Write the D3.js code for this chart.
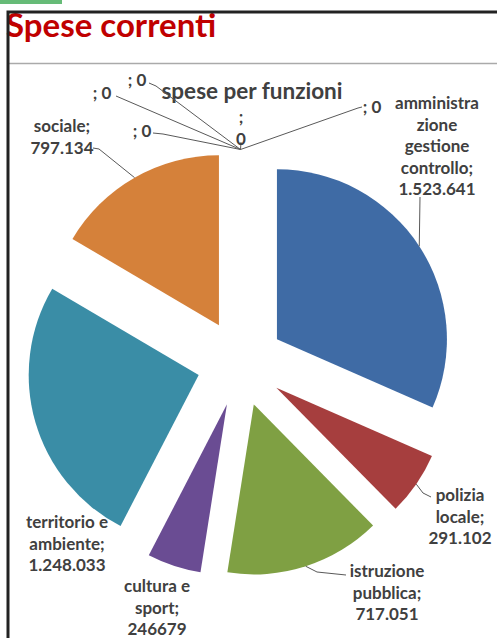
<!DOCTYPE html>
<html>
<head>
<meta charset="utf-8">
<script src="https://cdn.jsdelivr.net/npm/d3@7/dist/d3.min.js"></script>
<style>
  body { margin: 0; background: #fff; }
  svg { display: block; }
  text { font-family: Lato, "Open Sans", sans-serif; font-weight: bold; }
</style>
</head>
<body>
<div id="chart"></div>
<script>
// slices, in the order the pie draws them (clockwise from 12 o'clock)
var categories = ["amministrazione gestione controllo", "polizia locale", "istruzione pubblica",
                  "cultura e sport", "territorio e ambiente", "sociale", "", "", "", "", ""];
var values = [1523641, 291102, 717051, 246679, 1248033, 797134, 0, 0, 0, 0, 0];
// label text as it is wrapped in the picture
var labelLines = [
  ["amministra", "zione", "gestione", "controllo;", "1.523.641"],
  ["polizia", "locale;", "291.102"],
  ["istruzione", "pubblica;", "717.051"],
  ["cultura e", "sport;", "246679"],
  ["territorio e", "ambiente;", "1.248.033"],
  ["sociale;", "797.134"],
  ["; 0"], ["; 0"], ["; 0"], [";", "0"], ["; 0"]
];
var colors = ["#3f6ba5", "#a63e3e", "#7fa043", "#6a4c93", "#3a8da6", "#d5813a",
              "#888", "#888", "#888", "#888", "#888"];

var W = 497, H = 638;
var cx = 240.5, cy = 363, r = 170, explode = 43.5;

// where each label sits (first line centre) and the bends of its leader line
var labelLayout = [
  { x: 437, y: 103, leader: [[420, 197]] },
  { x: 460, y: 495, leader: [[423, 493], [431, 497]] },
  { x: 387, y: 571, leader: [[317, 572], [346, 575]] },
  { x: 157, y: 586, leader: null },
  { x: 67,  y: 522, leader: null },
  { x: 62,  y: 126, leader: [[99, 149], [93, 148]] },
  { x: 102, y: 93,  leader: [[116, 96]] },
  { x: 137, y: 80,  leader: [[156, 86], [149, 83]] },
  { x: 142, y: 131, leader: [[163, 134], [153, 133]] },
  { x: 241, y: 117, leader: [[241, 142]] },
  { x: 372, y: 107, leader: [[358, 108], [362, 107]] }
];

var svg = d3.select("#chart").append("svg")
  .attr("width", W)
  .attr("height", H);

// green tab + frame of the slide
svg.append("rect").attr("x", 0).attr("y", 0).attr("width", 62).attr("height", 4).attr("fill", "#66bb77");

svg.append("text")
  .attr("x", 6)
  .attr("y", 37)
  .attr("fill", "#c00000")
  .style("font-size", "33px")
  .text("Spese correnti");

svg.append("line").attr("x1", 9).attr("x2", W).attr("y1", 63.5).attr("y2", 63.5)
  .attr("stroke", "#aaa").attr("stroke-width", 1.5);
svg.append("path")
  .attr("d", "M8," + H + "V12H" + W)
  .attr("fill", "none").attr("stroke", "#222").attr("stroke-width", 3);

svg.append("text")
  .attr("x", 252)
  .attr("y", 99)
  .attr("text-anchor", "middle")
  .attr("fill", "#404040")
  .style("font-size", "22.5px")
  .text("spese per funzioni");

var pie = d3.pie().sort(null).value(function(d) { return d; });
var arcs = pie(values);
var arc = d3.arc().innerRadius(0).outerRadius(r);

function mid(d) { return (d.startAngle + d.endAngle) / 2; }
function offset(d) {
  var a = mid(d);
  return [cx + explode * Math.sin(a), cy - explode * Math.cos(a)];
}
function tip(d) {
  var a = mid(d), o = offset(d);
  return [o[0] + r * Math.sin(a), o[1] - r * Math.cos(a)];
}

var pieG = svg.append("g");
pieG.selectAll("path.slice")
  .data(arcs)
  .enter().append("path")
  .attr("class", "slice")
  .attr("transform", function(d) { return "translate(" + offset(d) + ")"; })
  .attr("d", arc)
  .attr("fill", function(d, i) { return colors[i]; });

// leader lines
var line = d3.line();
pieG.selectAll("path.leader")
  .data(arcs.filter(function(d, i) { return labelLayout[i].leader; }))
  .enter().append("path")
  .attr("class", "leader")
  .attr("d", function(d) {
    return line([tip(d)].concat(labelLayout[d.index].leader));
  })
  .attr("fill", "none")
  .attr("stroke", "#595959")
  .attr("stroke-width", 1);

// data labels
var labels = pieG.selectAll("text.lab")
  .data(arcs)
  .enter().append("text")
  .attr("class", "lab")
  .attr("text-anchor", "middle")
  .attr("fill", "#404040")
  .style("font-size", "17px")
  .attr("x", function(d) { return labelLayout[d.index].x; })
  .attr("y", function(d) { return labelLayout[d.index].y + 6; });

labels.selectAll("tspan")
  .data(function(d) { return labelLines[d.index]; })
  .enter().append("tspan")
  .attr("x", function() { return labelLayout[d3.select(this.parentNode).datum().index].x; })
  .attr("dy", function(d, i) { return i ? 21.5 : 0; })
  .text(function(d) { return d; });
</script>
</body>
</html>
